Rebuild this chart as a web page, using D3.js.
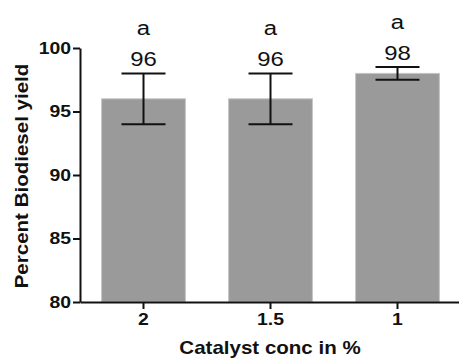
<!DOCTYPE html>
<html>
<head>
<meta charset="utf-8">
<script src="https://cdn.jsdelivr.net/npm/d3@7"></script>
<style>
  html, body { margin: 0; padding: 0; background: #ffffff; }
  svg { display: block; font-family: "Liberation Sans", Arial, sans-serif; }
</style>
</head>
<body>
<svg id="chart" width="459" height="358"></svg>
<script>
// Biodiesel yield by catalyst concentration
const categories = ["2", "1.5", "1"];
const yieldValues = [96, 96, 98];
const errorValues = [2, 2, 0.5];
const groupLetters = ["a", "a", "a"];
const yTicks = [80, 85, 90, 95, 100];

// the lettering is set slightly wide
const wide = 1.14;

const svg = d3.select("#chart");

const x = d3.scaleBand()
  .domain(categories)
  .range([80, 461])
  .paddingInner(0.34)
  .paddingOuter(0.17);

const y = d3.scaleLinear()
  .domain([80, 100])
  .range([302, 48]);

// bars
svg.append("g")
  .selectAll("rect")
  .data(categories)
  .join("rect")
  .attr("x", d => x(d))
  .attr("y", (d, i) => y(yieldValues[i]))
  .attr("width", x.bandwidth())
  .attr("height", (d, i) => y(80) - y(yieldValues[i]))
  .attr("fill", "#999a99")
  .attr("stroke", "#c4c5c4")
  .attr("stroke-width", 1);

// error bars
const capHalf = 22;
const err = svg.append("g")
  .attr("stroke", "#111")
  .attr("stroke-width", 2)
  .attr("fill", "none");

function wideText(tx, ty, str, size, weight) {
  return svg.append("text")
    .attr("transform", `translate(${tx},${ty}) scale(${wide},1)`)
    .attr("text-anchor", "middle")
    .attr("font-size", size)
    .attr("font-weight", weight)
    .attr("fill", "#111")
    .text(str);
}

categories.forEach((c, i) => {
  const cx = x(c) + x.bandwidth() / 2;
  const top = y(yieldValues[i] + errorValues[i]);
  const bot = y(yieldValues[i] - errorValues[i]);
  err.append("line").attr("x1", cx).attr("x2", cx).attr("y1", top).attr("y2", bot);
  err.append("line").attr("x1", cx - capHalf).attr("x2", cx + capHalf).attr("y1", top).attr("y2", top);
  err.append("line").attr("x1", cx - capHalf).attr("x2", cx + capHalf).attr("y1", bot).attr("y2", bot);

  // value and group letter above each error bar
  wideText(cx, top - 7.5, yieldValues[i], 21, "normal");
  wideText(cx, top - 38.5, groupLetters[i], 21, "normal");
});

// y axis
const yAxis = svg.append("g")
  .attr("transform", "translate(80,0)")
  .call(d3.axisLeft(y).tickValues(yTicks).tickSize(7).tickSizeOuter(0).tickPadding(2));

// x axis
const xAxis = svg.append("g")
  .attr("transform", "translate(0,302)")
  .call(d3.axisBottom(x).tickSize(7).tickSizeOuter(0).tickPadding(4));

[yAxis, xAxis].forEach(g => {
  g.select(".domain").attr("stroke", "#111").attr("stroke-width", 2);
  g.selectAll(".tick line").attr("stroke", "#111").attr("stroke-width", 2);
  g.selectAll(".tick text")
    .attr("font-family", "Liberation Sans, Arial, sans-serif")
    .attr("font-size", 17)
    .attr("font-weight", "bold")
    .attr("fill", "#111");
});
yAxis.selectAll(".tick text")
  .attr("x", -9 / wide)
  .attr("transform", `scale(${wide},1)`);
xAxis.selectAll(".tick text")
  .attr("transform", `scale(${wide},1)`);

// axis titles
wideText(270, 354, "Catalyst conc in %", 18, "bold");

svg.append("text")
  .attr("transform", `translate(28,176) rotate(-90) scale(${wide},1)`)
  .attr("text-anchor", "middle")
  .attr("font-size", 18)
  .attr("font-weight", "bold")
  .attr("fill", "#111")
  .text("Percent Biodiesel yield");
</script>
</body>
</html>
